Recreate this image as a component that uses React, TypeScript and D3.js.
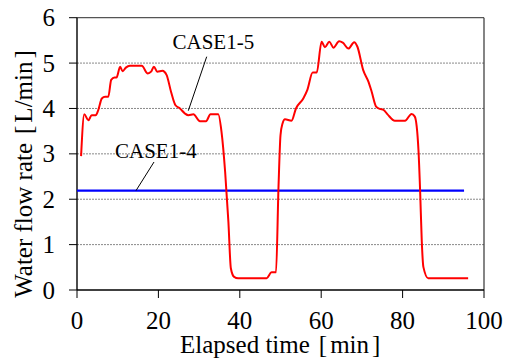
import React from "react";
import * as d3 from "d3";

const W = 507;
const H = 358;

// CASE1-5 (red)
const case15Time = [
  1.0, 1.8, 2.8, 3.6, 4.6, 5.2, 6.1, 6.9, 7.7, 8.4, 9.2, 9.7, 10.6, 11.2, 12.0, 13.0, 15.9, 17.4,
  18.2, 18.9, 19.7, 21.0, 22.0, 23.1, 24.2, 25.3, 26.5, 27.4, 28.6, 30.2, 31.7, 32.8, 34.7, 35.5,
  36.4, 37.2, 37.8, 38.6, 39.6, 46.6, 47.8, 48.9, 49.5, 50.0, 50.5, 51.1, 52.7, 53.8, 55.6, 56.6,
  57.9, 58.9, 60.1, 60.9, 62.0, 63.0, 64.4, 65.3, 66.7, 68.1, 68.9, 70.3, 71.6, 72.4, 73.5, 74.4,
  75.3, 76.3, 78.1, 80.6, 82.2, 83.0, 83.9, 84.3, 84.7, 85.1, 86.3, 96.1,
];
const case15Flow = [
  2.95, 3.87, 3.74, 3.85, 3.85, 3.96, 4.22, 4.26, 4.26, 4.63, 4.68, 4.68, 4.92, 4.82, 4.9, 4.94, 4.94,
  4.77, 4.81, 4.92, 4.81, 4.83, 4.74, 4.37, 4.07, 4.0, 3.89, 3.85, 3.87, 3.72, 3.72, 3.87, 3.87, 3.49,
  2.6, 1.5, 0.48, 0.29, 0.26, 0.26, 0.39, 0.39, 2.24, 3.41, 3.67, 3.76, 3.73, 4.0, 4.22, 4.41, 4.79,
  4.79, 5.47, 5.35, 5.47, 5.34, 5.48, 5.45, 5.32, 5.46, 5.36, 4.85, 4.59, 4.37, 4.04, 3.99, 3.97, 3.87,
  3.73, 3.73, 3.88, 3.82, 3.08, 2.2, 1.1, 0.51, 0.26, 0.26,
];

// CASE1-4 (blue), constant
const case14Time = [0, 95.1];
const case14Flow = [2.19, 2.19];

const xTicks = [0, 20, 40, 60, 80, 100];
const yTicks = [0, 1, 2, 3, 4, 5, 6];

const serif = { fontFamily: '"Liberation Serif"' };

export default function App() {
  const x = d3.scaleLinear().domain([0, 100]).range([77, 484]);
  const y = d3.scaleLinear().domain([0, 6]).range([290, 17.7]);

  const line = d3
    .line<[number, number]>()
    .x((d) => x(d[0]))
    .y((d) => y(d[1]))
    .curve(d3.curveMonotoneX);

  const red = line(case15Time.map((t, i) => [t, case15Flow[i]] as [number, number])) || "";
  const blue = line(case14Time.map((t, i) => [t, case14Flow[i]] as [number, number])) || "";

  const [x0, x1] = x.range();
  const [yb, yt] = y.range();

  return (
    <svg width={W} height={H} style={{ position: "absolute", left: 0, top: 0, background: "#fff" }}>
      {/* grid */}
      {yTicks.slice(1, -1).map((v) => (
        <line key={v} x1={x0} x2={x1} y1={y(v)} y2={y(v)} stroke="#888" strokeWidth={1} strokeDasharray="2,1" />
      ))}
      {/* frame */}
      <line x1={x0} x2={x1} y1={yt} y2={yt} stroke="#555" strokeWidth={1.2} />
      <line x1={x1} x2={x1} y1={yt} y2={yb} stroke="#333" strokeWidth={1.2} />
      <line x1={x0} x2={x1} y1={yb} y2={yb} stroke="#000" strokeWidth={1.4} />
      <line x1={x0} x2={x0} y1={yt} y2={yb} stroke="#000" strokeWidth={1.4} />

      {/* y ticks */}
      {yTicks.map((v) => (
        <g key={v}>
          <line x1={x0 - 8} x2={x0} y1={y(v)} y2={y(v)} stroke="#000" strokeWidth={1} />
          <text x={55} y={y(v)} dy="0.34em" textAnchor="end" fontSize={25} style={serif}>
            {v}
          </text>
        </g>
      ))}
      {/* x ticks */}
      {xTicks.map((v) => (
        <g key={v}>
          <line x1={x(v)} x2={x(v)} y1={yb} y2={yb + 8} stroke="#000" strokeWidth={1} />
          <text x={x(v)} y={329} textAnchor="middle" fontSize={25} style={serif}>
            {v}
          </text>
        </g>
      ))}

      {/* series */}
      <path d={blue} fill="none" stroke="#0000ff" strokeWidth={2.2} />
      <path d={red} fill="none" stroke="#ff0000" strokeWidth={2} />

      {/* annotations */}
      <line x1={206.7} y1={56.7} x2={188.3} y2={110.7} stroke="#000" strokeWidth={1} />
      <text x={172.5} y={49.3} fontSize={21} style={serif}>CASE1-5</text>
      <line x1={154} y1={162} x2={136} y2={y(case14Flow[0])} stroke="#000" strokeWidth={1} />
      <text x={115} y={157.7} fontSize={21} style={serif}>CASE1-4</text>

      {/* axis titles */}
      <text x={180} y={353} fontSize={25} style={serif}>
        Elapsed time<tspan dx={9}>[</tspan><tspan dx={3}>min</tspan><tspan dx={3}>]</tspan>
      </text>
      <text transform={`translate(32,174) rotate(-90)`} textAnchor="middle" fontSize={25} style={serif}>
        Water flow rate<tspan dx={9}>[</tspan><tspan dx={3}>L/min</tspan><tspan dx={3}>]</tspan>
      </text>
    </svg>
  );
}
